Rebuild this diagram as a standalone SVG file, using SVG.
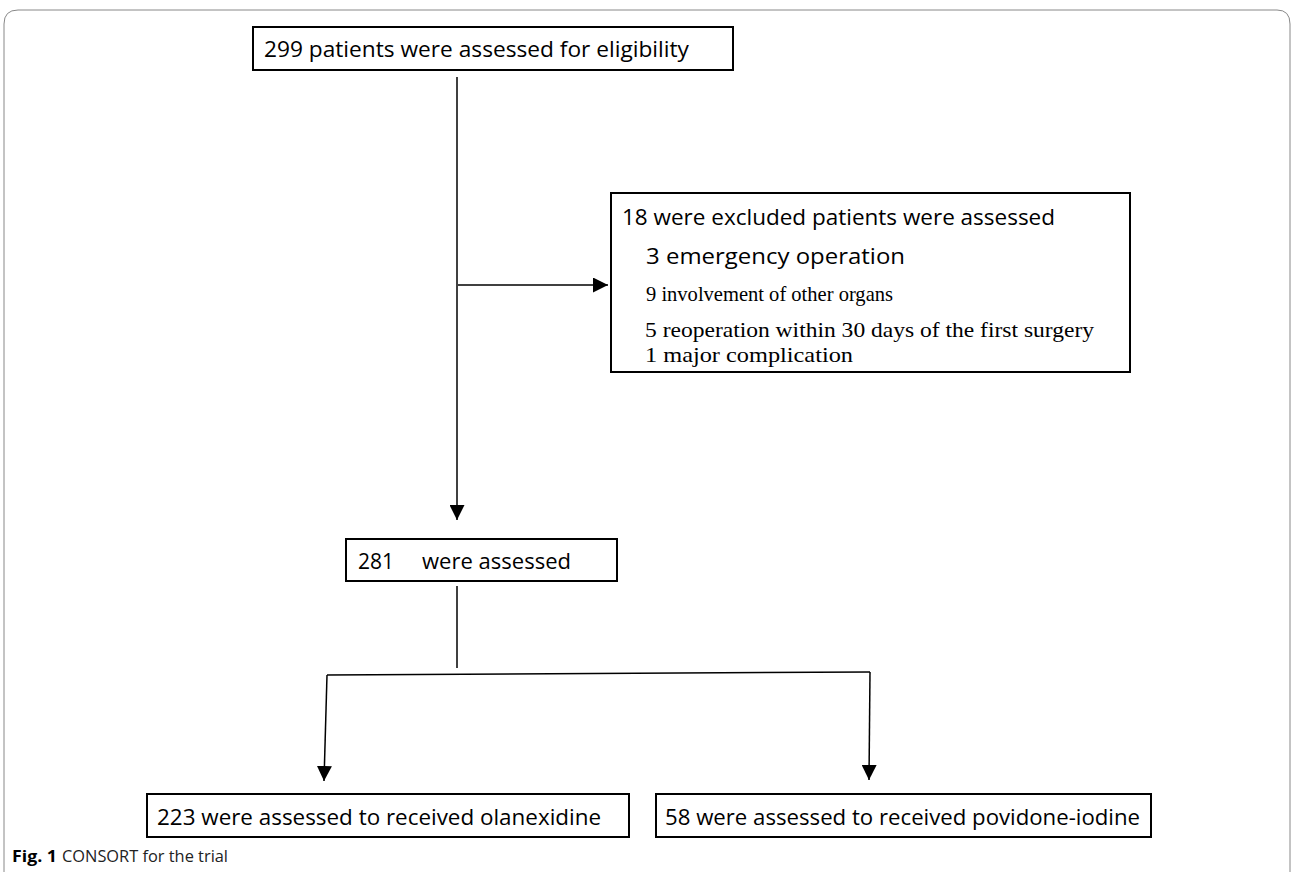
<svg xmlns="http://www.w3.org/2000/svg" width="1295" height="872" viewBox="0 0 1295 872">
<style>
.box{fill:#fff;stroke:#000;stroke-width:2}
.t{font-family:"Open Sans","Noto Sans",sans-serif;font-size:21px;fill:#000}
.s{font-family:"Liberation Serif",serif;font-size:21px;fill:#000}
.c{stroke:#000;stroke-width:1.5;fill:none}
.cap{font-family:"Open Sans","Liberation Sans",sans-serif;font-size:16px;fill:#222}
</style>
<defs>
<marker id="ah" viewBox="0 0 10 10" refX="10" refY="5" markerWidth="15" markerHeight="15" markerUnits="userSpaceOnUse" orient="auto">
<path d="M0,0 L10,5 L0,10 Z" fill="#000"/>
</marker>
</defs>
<path d="M4,872 L4,24 Q4,10 18,10 L1277,10 Q1290,10 1290,24 L1290,872" fill="none" stroke="#888" stroke-width="1"/>
<g id="connectors">
<line class="c" x1="457" y1="77" x2="457" y2="520" marker-end="url(#ah)"/>
<line class="c" x1="458" y1="285" x2="608" y2="285" marker-end="url(#ah)"/>
<line class="c" x1="457" y1="586" x2="457" y2="668"/>
<line class="c" x1="327" y1="675" x2="870" y2="672"/>
<line class="c" x1="327" y1="675" x2="324" y2="781" marker-end="url(#ah)"/>
<line class="c" x1="870" y1="672" x2="869" y2="780" marker-end="url(#ah)"/>
</g>
<g id="n1">
<rect class="box" x="253" y="27" width="480" height="43"/>
<text class="t" x="264" y="57" font-size="22" textLength="425" lengthAdjust="spacingAndGlyphs">299 patients were assessed for eligibility</text>
</g>
<g id="n2">
<rect class="box" x="611" y="193" width="519" height="179"/>
<text class="t" x="622" y="225" textLength="433" lengthAdjust="spacingAndGlyphs">18 were excluded patients were assessed</text>
<text class="t" x="646" y="264" textLength="259" lengthAdjust="spacingAndGlyphs">3 emergency operation</text>
<text class="s" x="646" y="301" textLength="247" lengthAdjust="spacingAndGlyphs">9 involvement of other organs</text>
<text class="s" x="645" y="337" textLength="449" lengthAdjust="spacingAndGlyphs">5 reoperation within 30 days of the first surgery</text>
<text class="s" x="645" y="362" textLength="208" lengthAdjust="spacingAndGlyphs">1 major complication</text>
</g>
<g id="n3">
<rect class="box" x="346" y="539" width="271" height="42"/>
<text class="t" x="358" y="569">281</text>
<text class="t" x="422" y="569" textLength="149" lengthAdjust="spacingAndGlyphs">were assessed</text>
</g>
<g id="n4">
<rect class="box" x="147" y="794" width="482" height="43"/>
<text class="t" x="157" y="825" font-size="22" textLength="444" lengthAdjust="spacingAndGlyphs">223 were assessed to received olanexidine</text>
</g>
<g id="n5">
<rect class="box" x="656" y="794" width="495" height="43"/>
<text class="t" x="665" y="825" font-size="22" textLength="475" lengthAdjust="spacingAndGlyphs">58 were assessed to received povidone-iodine</text>
</g>
<text class="cap" x="12" y="862"><tspan font-weight="bold" fill="#000" textLength="45" lengthAdjust="spacingAndGlyphs">Fig. 1</tspan><tspan x="62" textLength="166" lengthAdjust="spacingAndGlyphs">CONSORT for the trial</tspan></text>
</svg>
